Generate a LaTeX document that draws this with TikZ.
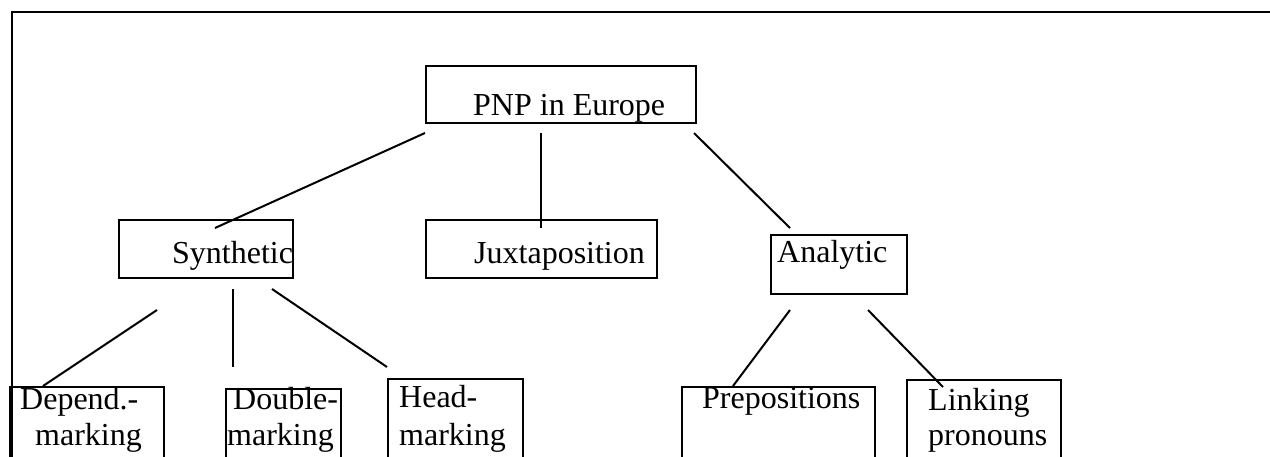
\documentclass[tikz,border=0pt]{standalone}
\usepackage{fontspec}
\setmainfont{Liberation Serif}
\begin{document}
\begin{tikzpicture}[x=1pt,y=-1pt,
  box/.style={draw,line width=2pt,rectangle,inner sep=0pt,anchor=north west},
  lbl/.style={inner sep=0pt,anchor=base west,font=\fontsize{32}{36}\selectfont},
  conn/.style={line width=2pt}]
\useasboundingbox (0,0) rectangle (1270,456);
\clip (0,0) rectangle (1270,456);
% frame
\coordinate (fTL) at (12,12);
\coordinate (fTR) at (1272,12);
\coordinate (fBL) at (12,460);
\draw[line width=2.4pt] (fBL) -- (fTL) -- (fTR);
% boxes
\node[box,minimum width=270pt,minimum height=57pt] (pnp) at (425,65) {};
\node[box,minimum width=174pt,minimum height=58pt] (syn) at (118,219) {};
\node[box,minimum width=231pt,minimum height=58pt] (jux) at (425,219) {};
\node[box,minimum width=136pt,minimum height=59pt] (ana) at (770,234) {};
\node[box,minimum width=154pt,minimum height=120pt] (dep) at (9,386) {};
\node[box,minimum width=115pt,minimum height=120pt] (dbl) at (225,388) {};
\node[box,minimum width=135pt,minimum height=120pt] (head) at (387,378) {};
\node[box,minimum width=193pt,minimum height=120pt] (prep) at (681,386) {};
\node[box,minimum width=154pt,minimum height=120pt] (link) at (906,379) {};
% texts
\node[lbl] (tpnp) at (473,115) {PNP in Europe};
\node[lbl] (tsyn) at (172,263) {Synthetic};
\node[lbl] (tjux) at (474,263) {Juxtaposition};
\node[lbl] (tana) at (777,262) {Analytic};
\node[lbl] (tdep1) at (20,409) {Depend.-};
\node[lbl] (tdep2) at (35,445) {marking};
\node[lbl] (tdbl1) at (233,409) {Double-};
\node[lbl] (tdbl2) at (227,445) {marking};
\node[lbl] (thead1) at (399,407) {Head-};
\node[lbl] (thead2) at (399,445) {marking};
\node[lbl] (tprep) at (702,408) {Prepositions};
\node[lbl] (tlink1) at (928,410) {Linking};
\node[lbl] (tlink2) at (928,445) {pronouns};
% connector end points
\coordinate (a1) at (425,133); \coordinate (a2) at (215,228);
\coordinate (b1) at (541,133); \coordinate (b2) at (541,228);
\coordinate (c1) at (694,133); \coordinate (c2) at (790,228);
\coordinate (d1) at (157,310); \coordinate (d2) at (43,386);
\coordinate (e1) at (233,289); \coordinate (e2) at (233,367);
\coordinate (f1) at (272,289); \coordinate (f2) at (387,367);
\coordinate (g1) at (790,310); \coordinate (g2) at (733,386);
\coordinate (h1) at (868,310); \coordinate (h2) at (943,387);
\draw[conn] (a1) -- (a2);
\draw[conn] (b1) -- (b2);
\draw[conn] (c1) -- (c2);
\draw[conn] (d1) -- (d2);
\draw[conn] (e1) -- (e2);
\draw[conn] (f1) -- (f2);
\draw[conn] (g1) -- (g2);
\draw[conn] (h1) -- (h2);
\end{tikzpicture}
\end{document}
